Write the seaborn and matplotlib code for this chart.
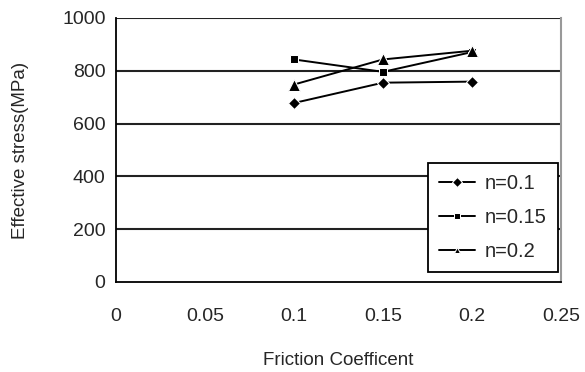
import matplotlib
matplotlib.use("Agg")
import matplotlib.pyplot as plt
import seaborn as sns
import pandas as pd

friction = [0.1, 0.15, 0.2]
n01 = [678, 755, 759]
n015 = [843, 796, 871]
n02 = [748, 843, 876]
series_names = ["n=0.1", "n=0.15", "n=0.2"]
x_ticks = [0, 0.05, 0.1, 0.15, 0.2, 0.25]
x_tick_labels = ["0", "0.05", "0.1", "0.15", "0.2", "0.25"]
y_ticks = [0, 200, 400, 600, 800, 1000]

rows = []
for name, vals in zip(series_names, [n01, n015, n02]):
    for x, v in zip(friction, vals):
        rows.append({"Friction": x, "Stress": v, "Series": name})
df = pd.DataFrame(rows)

sns.set_style("white")
plt.rcParams["font.family"] = ["Liberation Sans", "DejaVu Sans"]

fig = plt.figure(figsize=(5.85, 3.72), dpi=100)
ax = fig.add_axes([116/585, 1-282/372, (561-116)/585, (282-18)/372])

sns.lineplot(data=df, x="Friction", y="Stress", hue="Series", style="Series",
             markers={"n=0.1": "D", "n=0.15": "s", "n=0.2": "^"},
             dashes=False, palette=["black", "black", "black"],
             markersize=6, linewidth=1.4, ax=ax, legend=True)
for ln in ax.lines:
    if ln.get_marker() == "^":
        ln.set_markersize(8)

ax.set_xlim(0, 0.25)
ax.set_ylim(0, 1000)
ax.set_xticks(x_ticks)
ax.set_xticklabels(x_tick_labels)
ax.set_yticks(y_ticks)
for y in y_ticks[1:]:
    ax.axhline(y, color="#222222", linewidth=1.5, zorder=0)

for s in ["left", "bottom"]:
    ax.spines[s].set_color("black")
    ax.spines[s].set_linewidth(1.3)
ax.spines["right"].set_color("#999999")
ax.spines["right"].set_linewidth(1.5)
ax.spines["top"].set_visible(False)

ax.tick_params(axis="y", direction="inout", length=9, width=1.2, labelsize=14, pad=3)
ax.tick_params(axis="x", direction="out", length=5, width=1.2, labelsize=14, pad=14)
ax.set_xlabel("Friction Coefficent", fontsize=13.5, labelpad=19)
ax.set_ylabel("Effective stress(MPa)", fontsize=13.5, labelpad=24)

leg = ax.legend(loc="lower right", bbox_to_anchor=((558-116)/445, (282-272)/264),
                borderaxespad=0, frameon=True,
                fontsize=14.5, handlelength=1.8, handletextpad=0.5,
                borderpad=0.55, labelspacing=0.75, fancybox=False)
leg.get_frame().set_edgecolor("black")
leg.get_frame().set_linewidth(1.3)
leg.get_frame().set_alpha(1)
for h in leg.legend_handles:
    h.set_markersize(5)

fig.savefig("out.png", dpi=100)
